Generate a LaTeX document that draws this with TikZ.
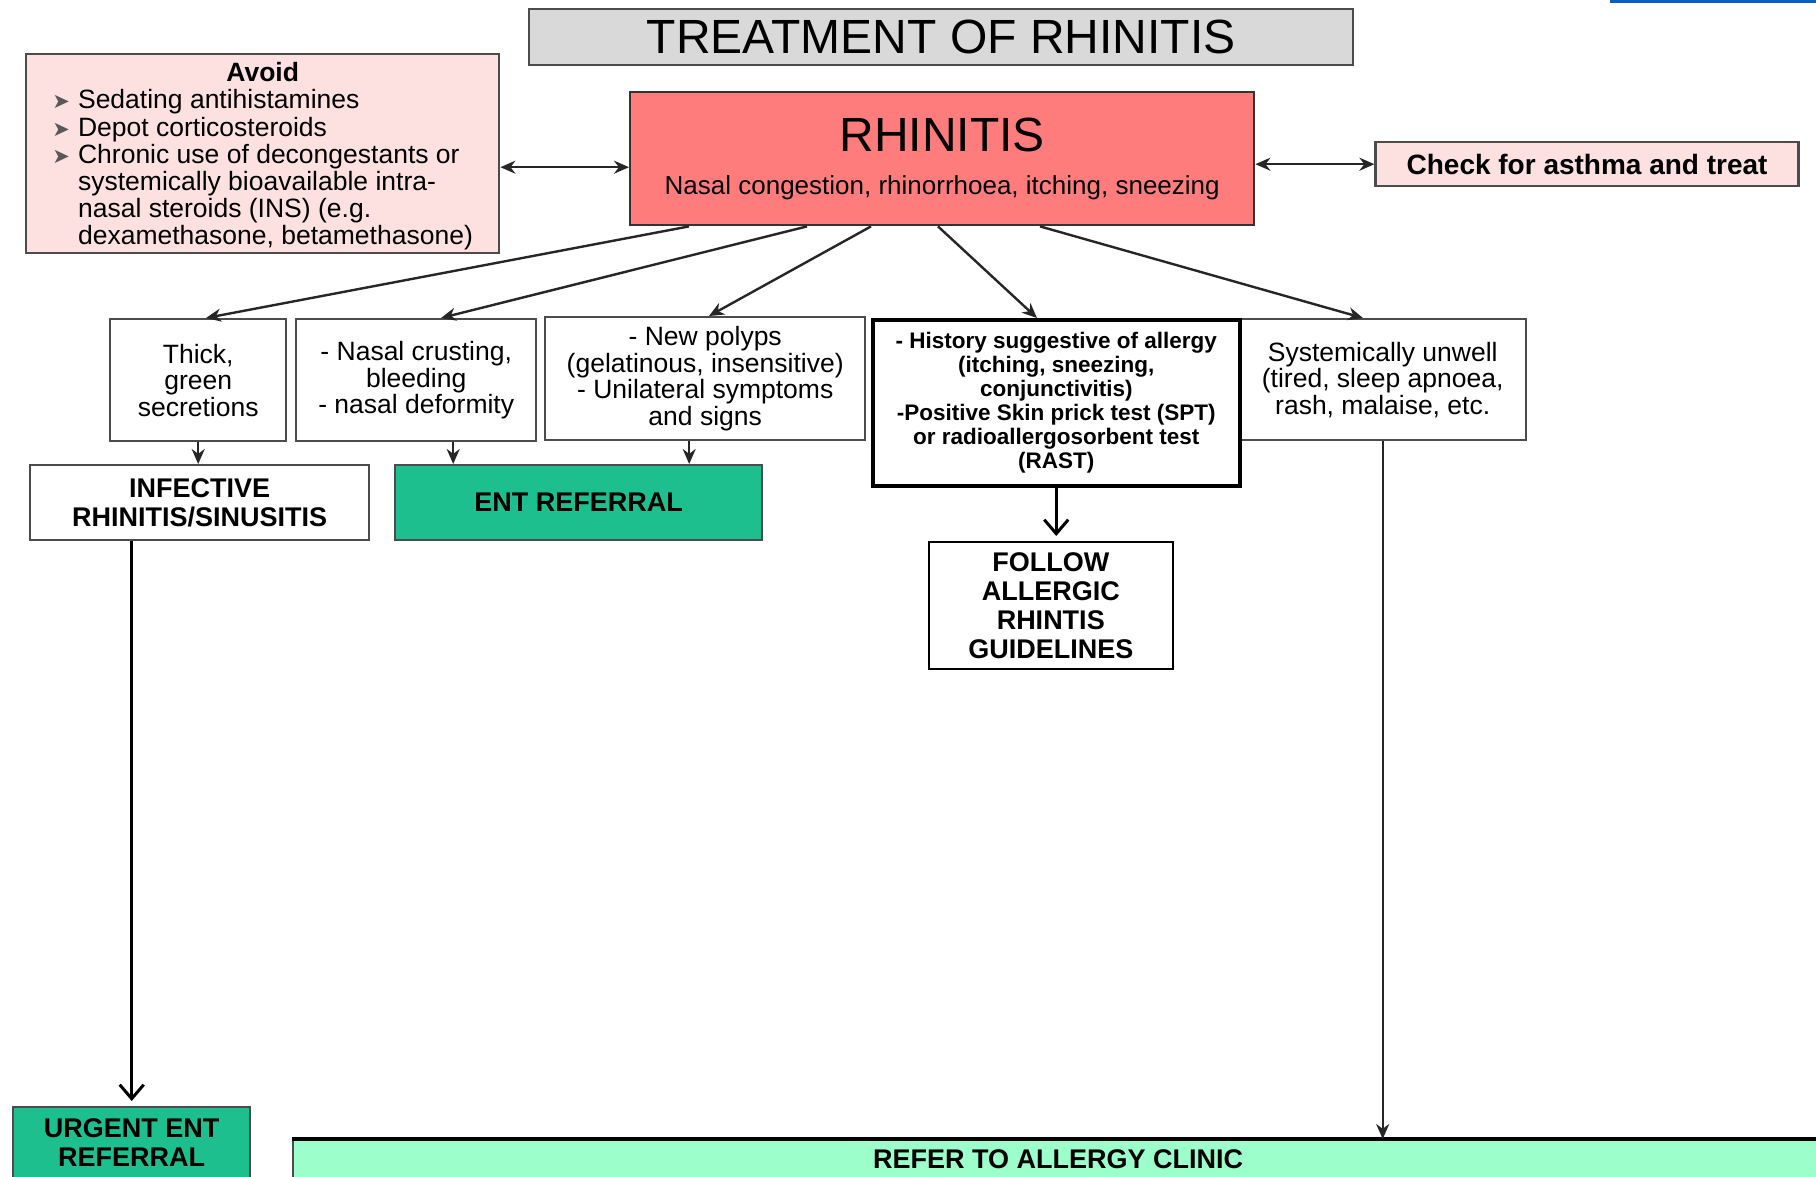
\documentclass[tikz,border=0pt]{standalone}
\usepackage{fontspec}
\setmainfont{Liberation Sans}
\newfontfamily\symfont{DejaVu Sans}
\usetikzlibrary{arrows.meta,positioning}
\definecolor{titlegray}{HTML}{D9D9D9}
\definecolor{avoidpink}{HTML}{FDE1E1}
\definecolor{rhinred}{HTML}{FF7C7C}
\definecolor{entgreen}{HTML}{1DBF8E}
\definecolor{refermint}{HTML}{9BFECB}
\definecolor{barblue}{HTML}{0A5FC4}
\newcommand\avb{{\symfont\fontsize{21}{21}\selectfont\color{black!65}\char"27A4}}
\tikzset{
    %Define standard arrow tip
    >={Stealth[length=15pt,width=13pt]},
    %Define style for boxes
    box/.style={
           rectangle,
           draw=black!70, line width=2.4pt,
           align=center,
           inner sep=4pt,
           anchor=north west},
    txt/.style={font=\fontsize{26.5}{26.6}\selectfont},
    bftxt/.style={font=\fontsize{27}{29}\selectfont\bfseries},
    % Define arrow styles
    pil/.style={
           ->,
           line width=2.4pt,
           black!85},
    vpil/.style={
           -{Straight Barb[length=14pt,width=24pt,line width=3pt]},
           line width=3pt,
           shorten >=5pt}
}
\begin{document}
\begin{tikzpicture}[x=1pt,y=-1pt]
\useasboundingbox (0,0) rectangle (1816,1177);
\fill[barblue] (1610,0) rectangle (1816,3);
% top part
\node[box, fill=titlegray, minimum width=824pt, minimum height=56pt,
  font=\fontsize{48}{48}\selectfont] (title) at (528,8) {TREATMENT OF RHINITIS};
\node[box, fill=rhinred, draw=black!80, minimum width=624pt, minimum height=133pt,
  font=\fontsize{26}{43}\selectfont] (rhin) at (629,91)
  {{\fontsize{48}{43}\selectfont RHINITIS}\\Nasal congestion, rhinorrhoea, itching, sneezing};
\node[box, fill=avoidpink, minimum width=473pt, minimum height=199pt, txt, inner sep=0pt]
  (avoid) at (25,53) {%
  \begin{tabular}{@{}l@{\hspace{8pt}}l@{}}
  \multicolumn{2}{c}{\rule{0pt}{27pt}\textbf{Avoid}}\\
  \avb & Sedating antihistamines\\
  \avb & Depot corticosteroids\\
  \avb & Chronic use of decongestants or\\
       & systemically bioavailable intra-\\
       & nasal steroids (INS) (e.g.\\
       & dexamethasone, betamethasone)
  \end{tabular}};
\node[box, fill=avoidpink, minimum width=423pt, minimum height=44pt, bftxt,
  font=\fontsize{28}{29}\selectfont\bfseries,
  right=119pt of rhin, yshift=-5.5pt] (check) {Check for asthma and treat};
% second row
\node[box, txt, minimum width=176pt, minimum height=122pt] (thick) at (109,318)
  {Thick,\\green\\secretions};
\node[box, txt, minimum width=240pt, minimum height=122pt] (crust) at (295,318)
  {- Nasal crusting,\\bleeding\\- nasal deformity};
\node[box, txt, minimum width=320pt, minimum height=123pt] (polyps) at (544,316)
  {- New polyps\\(gelatinous, insensitive)\\- Unilateral symptoms\\and signs};
\node[box, txt, minimum width=287pt, minimum height=121pt] (unwell) at (1238,318)
  {Systemically unwell\\(tired, sleep apnoea,\\rash, malaise, etc.};
\node[box, draw=black, line width=3.5pt, minimum width=367pt, minimum height=166pt,
  font=\fontsize{22.5}{24}\selectfont\bfseries] (history) at (871,318)
  {- History suggestive of allergy\\(itching, sneezing,\\conjunctivitis)\\
   -Positive Skin prick test (SPT)\\or radioallergosorbent test\\(RAST)};
% third row
\node[box, bftxt, minimum width=339pt, minimum height=75pt] (infect) at (29,464)
  {INFECTIVE\\RHINITIS/SINUSITIS};
\node[box, bftxt, fill=entgreen, minimum width=367pt, minimum height=75pt] (ent) at (394,464)
  {ENT REFERRAL};
\node[box, bftxt, draw=black, minimum width=244pt, minimum height=127pt,
  below=53.5pt of history, xshift=-5.5pt] (follow) {FOLLOW\\ALLERGIC\\RHINTIS\\GUIDELINES};
% bottom
\node[box, bftxt, fill=entgreen, minimum width=237pt, minimum height=71pt] (urgent) at (12,1106)
  {URGENT ENT\\REFERRAL};
\node[box, bftxt, fill=refermint, minimum width=1530pt, minimum height=38pt] (refer) at (292,1139)
  {REFER TO ALLERGY CLINIC};
\draw[line width=3.5pt] (refer.north west) -- (refer.north east);
% connectors
\draw[pil,<->] ([yshift=-8.5pt]rhin.west) -- ([yshift=-8.5pt]rhin.west -| avoid.east);
\draw[pil,<->] (rhin.east |- check.west) -- (check.west);
\draw[pil] ([xshift=60pt]rhin.south west) -- ([xshift=97pt]thick.north west);
\draw[pil] ([xshift=178pt]rhin.south west) -- ([xshift=146pt]crust.north west);
\draw[pil] ([xshift=242pt]rhin.south west) -- ([xshift=165pt]polyps.north west);
\draw[pil] ([xshift=309pt]rhin.south west) -- ([xshift=166pt]history.north west);
\draw[pil] ([xshift=411pt]rhin.south west) -- ([xshift=125pt]unwell.north west);
\draw[pil] (thick.south) -- (thick.south |- infect.north);
\draw[pil] ([xshift=37pt]crust.south) -- ([xshift=37pt]crust.south |- ent.north);
\draw[pil] ([xshift=-16pt]polyps.south) -- ([xshift=-16pt]polyps.south |- ent.north);
\draw[vpil] (history.south) -- (history.south |- follow.north);
\draw[vpil] (infect.south -| urgent.north) -- (urgent.north);
\draw[pil] (unwell.south) -- (unwell.south |- refer.north);
\end{tikzpicture}
\end{document}
